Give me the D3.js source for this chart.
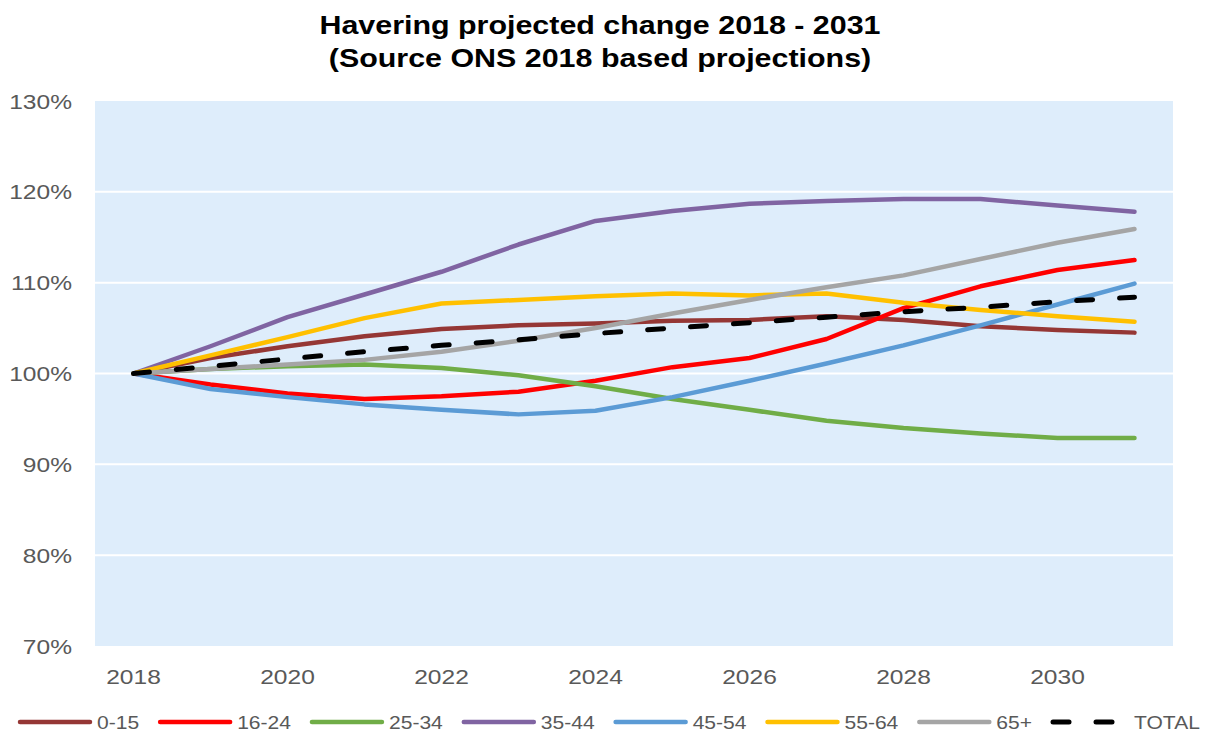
<!DOCTYPE html>
<html>
<head>
<meta charset="utf-8">
<script src="https://cdn.jsdelivr.net/npm/d3@7"></script>
<style>
  html, body { margin: 0; padding: 0; background: #ffffff; }
  svg { display: block; font-family: Arial, "Liberation Sans", sans-serif; }
</style>
</head>
<body>
<svg id="chart" width="1208" height="735"></svg>
<script>
// Projection years
const years = [2018, 2019, 2020, 2021, 2022, 2023, 2024, 2025, 2026, 2027, 2028, 2029, 2030, 2031];

// Population index (% of 2018) by age band
const age0_15  = [100, 101.7, 103.0, 104.1, 104.9, 105.3, 105.5, 105.8, 105.9, 106.3, 105.9, 105.2, 104.8, 104.5];
const age16_24 = [100, 98.8, 97.8, 97.2, 97.5, 98.0, 99.2, 100.7, 101.7, 103.8, 107.2, 109.6, 111.4, 112.5];
const age25_34 = [100, 100.5, 100.8, 101.0, 100.6, 99.8, 98.6, 97.2, 96.0, 94.8, 94.0, 93.4, 92.9, 92.9];
const age35_44 = [100, 103.0, 106.2, 108.7, 111.2, 114.2, 116.8, 117.9, 118.7, 119.0, 119.2, 119.2, 118.5, 117.8];
const age45_54 = [100, 98.3, 97.4, 96.6, 96.0, 95.5, 95.9, 97.4, 99.2, 101.1, 103.1, 105.3, 107.6, 109.9];
const age55_64 = [100, 102.0, 104.0, 106.1, 107.7, 108.1, 108.5, 108.8, 108.6, 108.8, 107.8, 107.0, 106.3, 105.7];
const age65plus = [100, 100.5, 101.0, 101.5, 102.4, 103.6, 105.0, 106.6, 108.1, 109.5, 110.8, 112.6, 114.4, 115.9];
const total    = [100, 100.8, 101.6, 102.4, 103.1, 103.7, 104.4, 105.0, 105.6, 106.2, 106.8, 107.3, 107.9, 108.4];

const seriesNames = ["0-15", "16-24", "25-34", "35-44", "45-54", "55-64", "65+", "TOTAL"];
const seriesValues = [age0_15, age16_24, age25_34, age35_44, age45_54, age55_64, age65plus, total];
const seriesColors = ["#953735", "#FF0000", "#70AD47", "#8064A2", "#5B9BD5", "#FFC000", "#A5A5A5", "#000000"];

const yTicks = [70, 80, 90, 100, 110, 120, 130];
const xTicks = [2018, 2020, 2022, 2024, 2026, 2028, 2030];

const titleLines = ["Havering projected change 2018 - 2031", "(Source ONS 2018 based projections)"];

const svg = d3.select("#chart");
const plot = { left: 95, right: 1173, top: 101, bottom: 646 };
const stretch = 1.17; // horizontal widening of the lettering

const x = d3.scaleLinear().domain([2017.5, 2031.5]).range([plot.left, plot.right]);
const y = d3.scaleLinear().domain([70, 130]).range([plot.bottom, plot.top]);

// Helper: text placed at (px, py), widened horizontally about its anchor
function label(g, str, px, py, opts) {
  return g.append("text")
    .attr("transform", `translate(${px},${py}) scale(${stretch},1)`)
    .attr("text-anchor", opts.anchor || "start")
    .attr("font-size", opts.size)
    .attr("font-weight", opts.weight || "normal")
    .attr("fill", opts.fill)
    .text(str);
}

// Plot background
svg.append("rect")
  .attr("x", plot.left).attr("y", plot.top)
  .attr("width", plot.right - plot.left).attr("height", plot.bottom - plot.top)
  .attr("fill", "#DEEDFB");

// Gridlines
svg.append("g").selectAll("line")
  .data(yTicks.filter(t => t > 70 && t < 130))
  .join("line")
  .attr("x1", plot.left).attr("x2", plot.right)
  .attr("y1", d => y(d)).attr("y2", d => y(d))
  .attr("stroke", "#ffffff").attr("stroke-width", 2);

// Y axis labels
const yg = svg.append("g");
yTicks.forEach(t => label(yg, t + "%", 72, y(t) + 7.5, { anchor: "end", size: 21, fill: "#595959" }));

// X axis labels
const xg = svg.append("g");
xTicks.forEach(t => label(xg, String(t), x(t), 684, { anchor: "middle", size: 21, fill: "#595959" }));

// Series lines
const line = d3.line()
  .x((d, i) => x(years[i]))
  .y(d => y(d))
  .curve(d3.curveLinear);

const lines = svg.append("g").attr("fill", "none");
seriesValues.forEach((vals, i) => {
  const isTotal = seriesNames[i] === "TOTAL";
  lines.append("path")
    .datum(vals)
    .attr("d", line)
    .attr("stroke", seriesColors[i])
    .attr("stroke-width", isTotal ? 5 : 4.5)
    .attr("stroke-linejoin", "round")
    .attr("stroke-linecap", "round")
    .attr("stroke-dasharray", isTotal ? "16,27" : null);
});

// Title
const tg = svg.append("g");
label(tg, titleLines[0], 600, 34, { anchor: "middle", size: 26, weight: "bold", fill: "#000000" });
label(tg, titleLines[1], 600, 67, { anchor: "middle", size: 26, weight: "bold", fill: "#000000" });

// Legend
const lg = svg.append("g");
const legendY = 722;
let cursor = 18;
seriesNames.forEach((name, i) => {
  const isTotal = name === "TOTAL";
  const len = isTotal ? 65 : 72;
  lg.append("line")
    .attr("x1", cursor + 2).attr("x2", cursor + len)
    .attr("y1", legendY).attr("y2", legendY)
    .attr("stroke", seriesColors[i])
    .attr("stroke-width", isTotal ? 5 : 4.5)
    .attr("stroke-linecap", "round")
    .attr("stroke-dasharray", isTotal ? "16,27" : null);
  const tx = cursor + len + (isTotal ? 18 : 7);
  const t = label(lg, name, tx, legendY + 6.5, { size: 18, fill: "#595959" });
  const w = t.node().getComputedTextLength() * stretch;
  cursor = tx + w + 19;
});
</script>
</body>
</html>
